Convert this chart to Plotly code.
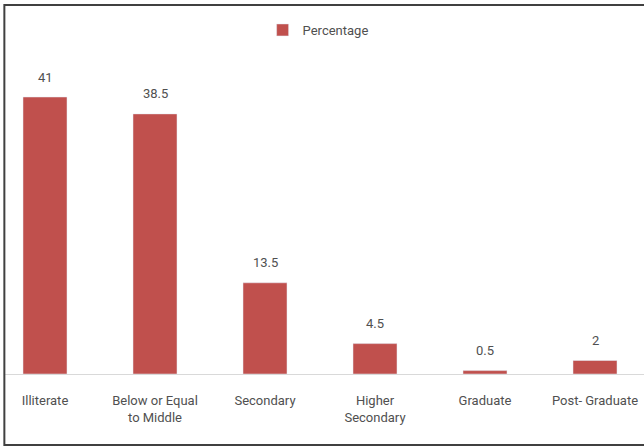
import plotly.graph_objects as go

categories = ["Illiterate", "Below or Equal<br>to Middle", "Secondary", "Higher<br>Secondary", "Graduate", "Post- Graduate"]
values = [41, 38.5, 13.5, 4.5, 0.5, 2]
series_name = "Percentage"

FONT = "Roboto, Arial"
TXT = "#505050"
W, H = 644, 448
ml, mr, mt, mb = 5, 0, 5, 74
plot_h = H - mt - mb

xs = list(range(len(categories)))
fig = go.Figure()
fig.add_trace(go.Bar(
    x=xs, y=values, name=series_name,
    marker=dict(color="#C0504D"),
    width=0.4,
    cliponaxis=False,
))
for x, v in zip(xs, values):
    fig.add_annotation(x=x, y=v, text=f"{v:g}", showarrow=False, yanchor="middle", yshift=20,
                       font=dict(family=FONT, size=13, color=TXT))

ymax = 41 * plot_h / 277.0
fig.update_layout(
    width=W, height=H,
    margin=dict(l=ml, r=mr, t=mt, b=mb),
    paper_bgcolor="white", plot_bgcolor="white",
    showlegend=True,
    legend=dict(orientation="h", x=0.49, xanchor="center", y=1 - (30 - mt) / plot_h, yanchor="middle",
                font=dict(family=FONT, size=13, color=TXT), itemwidth=30),
    xaxis=dict(tickmode="array", tickvals=xs, ticktext=categories,
               range=[(5 - 45) / 110.0, (644 - 45) / 110.0],
               showline=True, linecolor="#d9d9d9", linewidth=1, showgrid=False, zeroline=False,
               ticks="", ticklabelstandoff=14,
               tickfont=dict(family=FONT, size=13, color=TXT)),
    yaxis=dict(range=[0, ymax], visible=False),
    shapes=[dict(type="rect", xref="paper", yref="paper",
                 x0=-0.001, x1=1.02, y0=1 - (445 - mt) / plot_h, y1=1.0,
                 line=dict(color="#404040", width=2))],
)
fig.write_html("out.html")
